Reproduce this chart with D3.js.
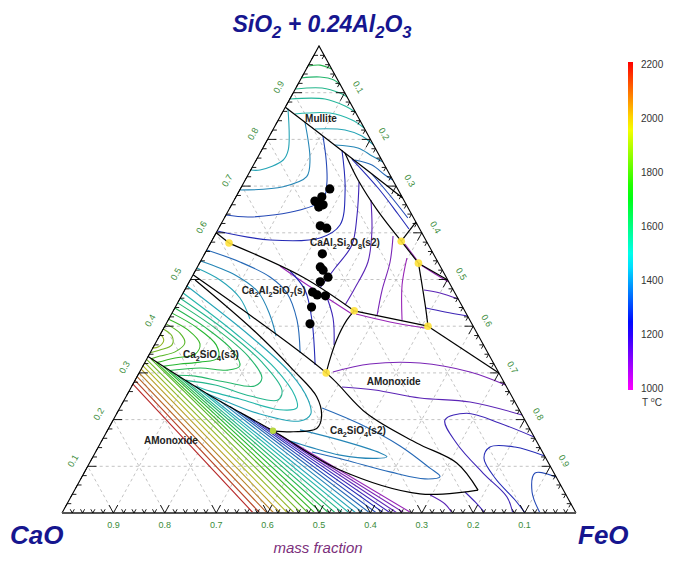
<!DOCTYPE html>
<html>
<head>
<meta charset="utf-8">
<script src="https://cdn.jsdelivr.net/npm/d3@7"></script>
<style>
  body { margin: 0; background: #fff; }
  svg { display: block; font-family: Arial, "Liberation Sans", sans-serif; }
</style>
</head>
<body>
<svg id="chart" width="673" height="563"></svg>
<script>
// Compositions are mass % as [FeO, SiO2+0.24Al2O3]; CaO is the remainder.
const gridFractions = [0.1, 0.2, 0.3, 0.4, 0.5, 0.6, 0.7, 0.8, 0.9];
const tempTicks = [1000, 1200, 1400, 1600, 1800, 2000, 2200];

// phase-field boundaries
const boundaries = [
  [[0, 86.9], [15.15, 77.9], [32.55, 67.45]],
  [[16.5, 77.09], [21.95, 71.3], [28.85, 64.9], [36.9, 58.2]],
  [[36.9, 58.2], [37.7, 62.3]],
  [[36.9, 58.2], [42.6, 53.5]],
  [[42.6, 53.5], [50.1, 49.9]],
  [[42.6, 53.5], [46.3, 47.8], [49.05, 43.5], [51.2, 40.0]],
  [[35.2, 43.3], [51.2, 40.0]],
  [[51.2, 40.0], [70, 30]],
  [[0, 60], [3.6, 57.8]],
  [[3.6, 57.8], [21.65, 50.5], [35.2, 43.3]],
  [[35.2, 43.3], [34.75, 41.3], [34.9, 37.0], [35.7, 32.8], [36.4, 30.0]],
  [[0, 51], [36.4, 30.0], [48.65, 21.3], [61.5, 15.0], [71.45, 10.7], [78.5, 4.9]],
  [[0, 33.5], [15.35, 25.6], [32.25, 17.6], [49.5, 9.2], [67.6, 4.1], [78.5, 4.9]],
  // alpha / alpha' dicalcium silicate transition
  [[0.95, 49.9], [17.6, 39.2], [29.7, 30.6], [37.1, 24.9], [40.2, 20.6], [40.5, 18.1], [36.3, 17.4], [32.25, 17.6]]
];

// liquidus isotherms, lime-rich monoxide field
const bandTemps = [2200, 2150, 2100, 2050, 2000, 1950, 1900, 1850, 1800, 1750, 1700, 1650,
                   1600, 1550, 1500, 1450, 1400, 1350, 1300, 1250, 1200, 1150, 1100, 1050];
const bandStarts = [[0, 27.6], [0, 28.4], [0, 29.2], [0, 30.0], [0, 30.8], [0, 31.5], [0, 32.2], [0, 32.9],
                    [0.8, 33.0], [2.3, 32.2], [4.0, 31.4], [5.7, 30.5], [7.7, 29.5], [9.8, 28.4], [12.3, 27.2], [15.35, 25.6],
                    [18.7, 24.0], [21.3, 22.8], [23.8, 21.6], [26.3, 20.4], [28.8, 19.2], [31.0, 18.2], [34.0, 16.7], [37.4, 15.1]];
const bandEnds = [37.2, 38.5, 39.9, 41.2, 42.5, 43.9, 45.2, 46.5, 47.9, 49.2, 50.5, 51.9,
                  53.2, 54.6, 55.9, 57.2, 58.6, 59.9, 61.2, 62.6, 63.9, 65.2, 66.6, 68.0];

// isotherms in the dicalcium silicate fields
const silicateIsotherms = [
  { t: 1450, pts: [[0, 48.6], [17.65, 37.9], [29.4, 30.0], [35.8, 24.2], [37.8, 21.2], [36.45, 19.7], [27.9, 21.2], [19.7, 24.0], [15.35, 25.6]] },
  { t: 1500, pts: [[0, 47.1], [14.45, 38.5], [25.9, 31.0], [32.8, 25.05], [34.45, 22.5], [31.35, 22.1], [22.4, 24.4], [15.75, 26.1], [12.3, 27.2]] },
  { t: 1550, pts: [[0, 46.0], [12.1, 39.2], [22.75, 32.3], [29.65, 26.3], [29.9, 24.2], [24.1, 25.05], [16.1, 27.4], [9.8, 28.4]] },
  { t: 1600, pts: [[0, 45.0], [10.0, 39.6], [19.4, 33.6], [24.45, 28.9], [23.9, 27.2], [17.7, 28.05], [11.25, 29.3], [7.7, 29.5]] },
  { t: 1650, pts: [[0, 43.9], [7.9, 39.8], [15.65, 34.9], [18.85, 31.5], [17.0, 30.6], [11.35, 31.05], [5.7, 30.5]] },
  { t: 1700, pts: [[0, 42.8], [6.2, 39.8], [12.0, 36.0], [13.75, 33.2], [10.7, 32.3], [7.0, 31.9], [4.0, 31.4]] },
  { t: 1750, pts: [[0, 41.5], [4.9, 39.2], [8.75, 36.2], [8.9, 34.0], [5.4, 33.2], [2.3, 32.2]] },
  { t: 1800, pts: [[0, 40.5], [3.7, 38.5], [5.7, 36.4], [4.75, 34.5], [2.25, 33.6], [0.8, 33.0]] },
  { t: 1850, pts: [[0, 39.4], [2.45, 37.9], [3.4, 36.0], [1.6, 34.9], [0, 34.3]] },
  { t: 1900, pts: [[0, 38.3], [1.3, 37.0], [1.0, 35.6], [0, 35.3]] },
  { t: 1400, pts: [[37.4, 17.8], [46.3, 15.6], [55.5, 12.85], [57.2, 12.05], [55.35, 11.7], [47.9, 12.4], [41.2, 14.1], [36.7, 15.4]] },
  { t: 1350, pts: [[39.35, 22.5], [48.45, 19.05], [58.6, 14.35], [66.8, 9.6], [69.65, 7.8], [66.95, 7.3], [59.4, 8.8], [49.4, 11.35], [42.1, 13.06]] }
];

// isotherms in the mullite, anorthite, gehlenite and FeO-rich fields
const fieldIsotherms = [
  // mullite
  { t: 1650, pts: [[0.2, 95.7], [2.25, 95.9], [4.9, 95.07]] },
  { t: 1600, pts: [[0, 93.15], [3.5, 93.36], [6.55, 92.72], [8.35, 91.65]] },
  { t: 1550, pts: [[0, 90.8], [5.1, 91.0], [9.1, 89.93], [10.9, 89.1]] },
  { t: 1525, pts: [[0, 88.65], [6.85, 88.65], [11.5, 87.15], [14.13, 85.87]] },
  { t: 1500, pts: [[2.6, 85.44], [9.3, 85.65], [14.35, 84.15], [17.56, 82.44]] },
  { t: 1450, pts: [[8.1, 82.23], [14.05, 82.02], [18.0, 80.71], [21.2, 78.8]] },
  { t: 1400, pts: [[13.7, 78.8], [18.5, 78.16], [22.1, 76.45], [24.84, 75.16]] },
  { t: 1350, pts: [[19.2, 75.59], [23.05, 74.52], [26.65, 72.38], [28.7, 71.3]] },
  // anorthite
  { t: 1450, pts: [[0.65, 86.62], [5.15, 77.74], [5.25, 75.59], [1.8, 73.45], [0, 73.45]] },
  { t: 1400, pts: [[5.4, 83.73], [10.45, 75.59], [11.6, 72.01], [8.1, 69.87], [0, 69.16]] },
  { t: 1300, pts: [[10.4, 80.73], [13.6, 75.59], [16.2, 70.66], [17.25, 67.02], [13.85, 64.88], [4.9, 63.38], [0, 63.8]] },
  { t: 1250, pts: [[15.6, 77.73], [20.5, 69.16], [23.25, 61.67], [20.75, 58.89], [11.25, 58.47], [0, 60.4]] },
  { t: 1200, pts: [[22.35, 70.88], [25.5, 63.81], [27.7, 57.39], [26.9, 52.46], [26.1, 48.18]] },
  { t: 1150, pts: [[26.6, 67.02], [30.2, 60.17], [32.65, 53.75], [32.9, 48.18], [32.8, 44.54]] },
  { t: 1100, pts: [[34.75, 59.31], [36.95, 53.75], [38.4, 47.75], [40.15, 42.29]] },
  { t: 1050, pts: [[39.8, 54.6], [41.75, 48.82], [45.55, 41.22]] },
  { t: 1250, pts: [[18.5, 75.8], [26.7, 69.59], [33.35, 64.03], [37.1, 60.81]] },
  { t: 1300, pts: [[24.0, 72.59], [30.5, 67.45], [35.7, 63.17]] },
  // low-melting lines near the invariant points
  { t: 1050, pts: [[35.9, 42.61], [43.35, 40.9], [50.8, 39.61]] },
  { t: 1050, pts: [[37.9, 57.6], [41.95, 54.18]] },
  { t: 1050, pts: [[43.3, 53.1], [47.0, 51.18], [50.53, 49.47]] },
  { t: 1050, pts: [[15.96, 52.89], [21.35, 49.89], [35.1, 42.61]] },
  { t: 1150, pts: [[46.55, 47.75], [50.0, 47.11], [54.18, 45.82]] },
  { t: 1200, pts: [[48.85, 43.9], [53.0, 43.04], [57.82, 42.18]] },
  // gehlenite
  { t: 1350, pts: [[0, 56.32], [7.75, 53.75], [15.2, 50.54], [20.2, 47.11], [25.05, 41.33], [29.2, 34.26]] },
  { t: 1400, pts: [[0, 53.96], [8.2, 50.96], [14.5, 47.32], [19.25, 42.4], [22.7, 37.9]] },
  { t: 1450, pts: [[0, 52.46], [5.8, 49.89], [11.6, 46.04], [15.8, 41.54]] },
  { t: 1250, pts: [[18.45, 51.82], [23.4, 47.75], [27.95, 41.33], [33.4, 31.69]] },
  { t: 1200, pts: [[27.5, 47.32], [31.85, 41.76], [34.95, 35.97]] },
  // FeO-rich monoxide
  { t: 1100, pts: [[37.6, 30.19], [43.95, 31.9], [53.6, 32.12], [64.3, 30.19], [72.59, 27.41]] },
  { t: 1150, pts: [[41.0, 26.98], [47.7, 26.34], [57.35, 24.62], [67.5, 23.77], [79.02, 20.98]] },
  { t: 1200, pts: [[83.73, 16.27], [75.6, 19.21], [68.05, 21.35], [64.55, 19.91], [69.3, 14.93], [77.7, 8.5], [84.8, 3.49], [87.7, 0]] },
  { t: 1250, pts: [[87.79, 12.21], [81.05, 14.13], [76.2, 14.13], [76.2, 11.78], [80.5, 7.49], [86.75, 2.78], [90.1, 0]] },
  { t: 1300, pts: [[92.29, 7.71], [87.75, 8.57], [89.2, 4.5], [93.0, 0]] },
  { t: 1150, pts: [[69.7, 3.85], [73.55, 1.93], [75.9, 0]] },
  { t: 1200, pts: [[76.15, 4.5], [79.2, 2.36], [82.3, 0]] }
];

// measured slag compositions
const samples = [[17.4, 69.4], [16.7, 67.7], [16.6, 66.4], [17.8, 66.0], [17.2, 65.5], [15.8, 66.8],
                 [19.5, 61.5], [21.0, 61.0], [22.9, 55.5], [23.9, 52.7], [24.8, 52.0], [26.5, 50.5],
                 [25.5, 49.5], [25.1, 47.3], [26.3, 46.7], [28.0, 46.5], [26.5, 44.1], [28.0, 40.5]];

// invariant points
const invariants = [[3.6, 57.8], [36.9, 58.2], [42.6, 53.5], [35.2, 43.3], [51.2, 40.0], [36.4, 30.0]];
const invariantsLow = [[32.25, 17.6]];

// field names, anchored at the start of the text
const fieldLabels = [
  { text: "Mullite", at: [5.45, 83.7] },
  { text: "CaAl_2Si_2O_8(s2)", at: [19.65, 57.2] },
  { text: "Ca_2Al_2SiO_7(s)", at: [11.5, 46.9] },
  { text: "Ca_2SiO_4(s3)", at: [6.94, 33.2] },
  { text: "AMonoxide", at: [8.55, 14.8] },
  { text: "AMonoxide", at: [45.58, 27.4] },
  { text: "Ca_2SiO_4(s2)", at: [43.69, 16.9] }
];

const svg = d3.select("#chart");

const xs = d3.scaleLinear().domain([0, 100]).range([62, 576]);
const ys = d3.scaleLinear().domain([0, 100]).range([513, 46]);
const proj = ([f, s]) => [xs(f + s / 2), ys(s)];
const line = d3.line().x(d => proj(d)[0]).y(d => proj(d)[1]);
const smooth = d3.line().x(d => proj(d)[0]).y(d => proj(d)[1]).curve(d3.curveCatmullRom.alpha(0.5));

const tempScale = d3.scaleLinear().domain([1000, 2200]).range([300, 0]);
const barColor = t => d3.hsl(tempScale(t), 1, 0.5).formatHex();
const lineColor = t => d3.hsl(tempScale(t), 0.66, 0.43).formatHex();

// dashed grid
const grid = svg.append("g").attr("fill", "none").attr("stroke", "#b4b4b4")
  .attr("stroke-width", 0.8).attr("stroke-dasharray", "3,3");
gridFractions.forEach(g => {
  const k = g * 100;
  grid.append("path").attr("d", line([[0, k], [100 - k, k]]));
  grid.append("path").attr("d", line([[k, 0], [k, 100 - k]]));
  grid.append("path").attr("d", line([[100 - k, 0], [0, 100 - k]]));
});

// isotherms
const iso = svg.append("g").attr("fill", "none").attr("stroke-width", 1.1);
bandTemps.forEach((t, i) => {
  iso.append("path").attr("stroke", lineColor(t))
    .attr("d", line([bandStarts[i], [bandEnds[i], 0]]));
});
silicateIsotherms.concat(fieldIsotherms).forEach(d => {
  iso.append("path").attr("stroke", lineColor(d.t)).attr("d", smooth(d.pts));
});

// boundaries
const bnd = svg.append("g").attr("fill", "none").attr("stroke", "#000").attr("stroke-width", 1.2);
boundaries.forEach(b => bnd.append("path").attr("d", smooth(b)));

// triangle frame
svg.append("path").attr("fill", "none").attr("stroke", "#000").attr("stroke-width", 1.1)
  .attr("d", line([[0, 0], [0, 100], [100, 0]]));
svg.append("path").attr("stroke", "#555").attr("stroke-width", 1.8)
  .attr("d", line([[0, 0], [100, 0]]));

// edge ticks: two short arms along the grid directions
const ticks = svg.append("g").attr("fill", "none").attr("stroke", "#000").attr("stroke-width", 0.9);
d3.range(2, 100, 2).forEach(k => {
  const L = (k % 10 === 0) ? 1.7 : 0.8;
  ticks.append("path").attr("d", line([[k - L, L], [k, 0], [k, L]]));
  ticks.append("path").attr("d", line([[L, k], [0, k], [0, k - L]]));
  ticks.append("path").attr("d", line([[100 - k - L, k], [100 - k, k], [100 - k, k - L]]));
});

// tick labels
const lab = svg.append("g").attr("font-size", 9).attr("fill", "#3a8c3a").attr("text-anchor", "middle");
gridFractions.forEach(g => {
  const k = g * 100;
  const b = proj([100 - k, 0]);
  lab.append("text").attr("x", b[0]).attr("y", b[1] + 15).text(g.toFixed(1));
  const l = proj([0, k]);
  lab.append("text").attr("transform", `translate(${l[0] - 12},${l[1] - 4}) rotate(-60)`).text(g.toFixed(1));
  const r = proj([k, 100 - k]);
  lab.append("text").attr("transform", `translate(${r[0] + 11},${r[1] - 4}) rotate(60)`).text(g.toFixed(1));
});

// sample compositions
svg.append("g").selectAll("circle").data(samples).join("circle")
  .attr("cx", d => proj(d)[0]).attr("cy", d => proj(d)[1]).attr("r", 4.6).attr("fill", "#000");

// invariant points
svg.append("g").selectAll("circle").data(invariants).join("circle")
  .attr("cx", d => proj(d)[0]).attr("cy", d => proj(d)[1]).attr("r", 3.8)
  .attr("fill", "#ffe23a").attr("fill-opacity", 0.9);
svg.append("g").selectAll("circle").data(invariantsLow).join("circle")
  .attr("cx", d => proj(d)[0]).attr("cy", d => proj(d)[1]).attr("r", 3.2)
  .attr("fill", "#b8d840");

// text with chemical subscripts written as "_n"
function chem(sel, str, subShift) {
  let pending = 0;
  str.split(/(_\d+)/).filter(p => p.length).forEach(p => {
    if (p[0] === "_") {
      sel.append("tspan").attr("font-size", "0.72em").attr("dy", subShift - pending).text(p.slice(1));
      pending = subShift;
    } else {
      sel.append("tspan").attr("dy", -pending).text(p);
      pending = 0;
    }
  });
}

const fl = svg.append("g").attr("font-size", 10).attr("font-weight", "bold").attr("fill", "#222");
fieldLabels.forEach(d => {
  const p = proj(d.at);
  const t = fl.append("text").attr("x", p[0]).attr("y", p[1]);
  chem(t, d.text, 3);
});

// titles
const navy = "#16168f";
const title = svg.append("text").attr("x", 322).attr("y", 32).attr("text-anchor", "middle")
  .attr("font-size", 23).attr("font-weight", "bold").attr("font-style", "italic").attr("fill", navy);
chem(title, "SiO_2 + 0.24Al_2O_3", 6);
svg.append("text").attr("x", 10).attr("y", 544).attr("font-size", 26).attr("font-weight", "bold")
  .attr("font-style", "italic").attr("fill", navy).text("CaO");
svg.append("text").attr("x", 578).attr("y", 544).attr("font-size", 26).attr("font-weight", "bold")
  .attr("font-style", "italic").attr("fill", navy).text("FeO");
svg.append("text").attr("x", 318).attr("y", 553).attr("text-anchor", "middle").attr("font-size", 15)
  .attr("font-style", "italic").attr("fill", "#7c2f7c").text("mass fraction");

// colour bar
const cbY = d3.scaleLinear().domain([1000, 2200]).range([388, 64]);
const grad = svg.append("defs").append("linearGradient").attr("id", "tgrad")
  .attr("x1", 0).attr("y1", 1).attr("x2", 0).attr("y2", 0);
d3.range(1000, 2201, 50).forEach(t => {
  grad.append("stop").attr("offset", (t - 1000) / 1200).attr("stop-color", barColor(t));
});
svg.append("rect").attr("x", 628).attr("y", cbY(2200) - 2).attr("width", 5)
  .attr("height", cbY(1000) - cbY(2200) + 4).attr("fill", "url(#tgrad)");
const cb = svg.append("g").attr("font-size", 10).attr("fill", "#333");
tempTicks.forEach(t => cb.append("text").attr("x", 641).attr("y", cbY(t)).attr("dy", "0.35em").text(t));
const tl = cb.append("text").attr("x", 642).attr("y", 406);
tl.append("tspan").text("T ");
tl.append("tspan").attr("font-size", 7).attr("dy", -4).text("o");
tl.append("tspan").attr("dy", 4).text("C");
</script>
</body>
</html>
